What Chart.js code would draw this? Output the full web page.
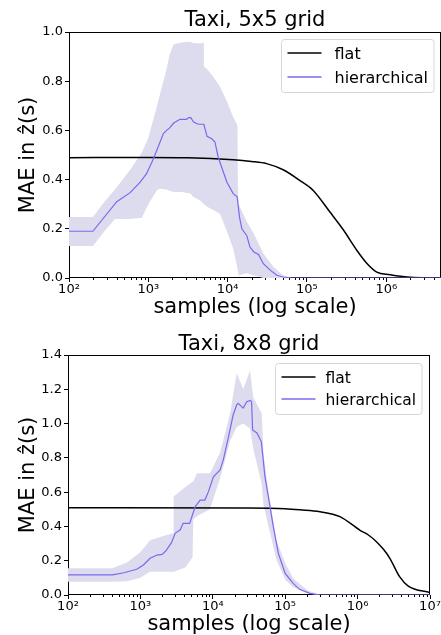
<!DOCTYPE html>
<html>
<head>
<meta charset="utf-8">
<script src="https://cdn.jsdelivr.net/npm/chart.js@4.4.0/dist/chart.umd.min.js"></script>
<style>
  html, body { margin: 0; padding: 0; background: #fff; overflow: hidden; }
  .panel { position: absolute; left: 0; }
</style>
</head>
<body>
<div class="panel" style="top:0"><canvas id="grid5" width="441" height="320"></canvas></div>
<div class="panel" style="top:320px"><canvas id="grid8" width="441" height="315"></canvas></div>
<script>
// ---- Taxi, 5x5 grid ----
const flat5Samples = [100, 1000, 3160, 11750, 20000, 31000, 50100, 81000, 120000, 195000, 290000, 427000, 575000, 760000, 1120000, 1510000, 2240000, 3500000, 4900000];
const flat5Mae = [0.489, 0.49, 0.489, 0.481, 0.474, 0.465, 0.44, 0.397, 0.356, 0.268, 0.194, 0.112, 0.058, 0.024, 0.0135, 0.007, 0.002, 0, 0];

const hier5Samples = [100, 200, 400, 590, 790, 950, 1160, 1550, 1700, 1860, 2090, 2510, 3020, 3240, 3430, 3720, 4270, 5010, 5500, 6310, 6920, 7590, 9770, 11750, 13200, 14100, 15100, 17400, 19100, 21400, 24500, 28200, 34700, 41700, 50100, 61700, 4900000];
const hier5Mae = [0.19, 0.19, 0.31, 0.347, 0.39, 0.424, 0.485, 0.587, 0.60, 0.61, 0.63, 0.645, 0.645, 0.652, 0.652, 0.634, 0.625, 0.625, 0.576, 0.566, 0.553, 0.492, 0.39, 0.343, 0.33, 0.248, 0.20, 0.173, 0.126, 0.106, 0.096, 0.058, 0.031, 0.011, 0.004, 0.001, 0];

const band5Samples = [100, 200, 280, 380, 590, 830, 1000, 1290, 1410, 1700, 1860, 2090, 2630, 3390, 3670, 4470, 5010, 5020, 5500, 6610, 8040, 9770, 11750, 13300, 13500, 13800, 17400, 21400, 28200, 38000, 50100, 63100, 4900000];
const upper5 = [0.248, 0.248, 0.31, 0.36, 0.44, 0.51, 0.57, 0.70, 0.75, 0.85, 0.91, 0.95, 0.957, 0.96, 0.955, 0.953, 0.957, 0.86, 0.85, 0.817, 0.776, 0.72, 0.654, 0.62, 0.33, 0.30, 0.23, 0.18, 0.10, 0.045, 0.011, 0, 0];
const lower5 = [0.13, 0.13, 0.19, 0.24, 0.24, 0.245, 0.30, 0.358, 0.363, 0.36, 0.355, 0.35, 0.35, 0.343, 0.33, 0.316, 0.30, 0.30, 0.29, 0.276, 0.26, 0.19, 0.12, 0.04, 0.03, 0.01, 0.02, 0.01, 0, 0, 0, 0, 0];

// ---- Taxi, 8x8 grid ----
const flat8Samples = [100, 30000, 100000, 160000, 302000, 570000, 1070000, 1410000, 1820000, 2290000, 2790000, 3800000, 5010000, 10000000];
const flat8Mae = [0.509, 0.507, 0.503, 0.497, 0.486, 0.457, 0.379, 0.35, 0.311, 0.265, 0.214, 0.107, 0.052, 0.014];

const hier8Samples = [100, 410, 590, 890, 1100, 1360, 1700, 2000, 2290, 2690, 3020, 3550, 3890, 4790, 5700, 6680, 7760, 8710, 10200, 12600, 14000, 16400, 19100, 21400, 22400, 26300, 29500, 33100, 34300, 35500, 40700, 46800, 52500, 60300, 68400, 80400, 100000, 129000, 158000, 219000, 302000, 10000000];
const hier8Mae = [0.117, 0.117, 0.13, 0.15, 0.175, 0.214, 0.233, 0.237, 0.262, 0.305, 0.36, 0.38, 0.418, 0.418, 0.515, 0.554, 0.554, 0.603, 0.69, 0.73, 0.79, 0.92, 1.05, 1.11, 1.118, 1.09, 1.128, 1.135, 1.128, 0.963, 0.945, 0.895, 0.69, 0.54, 0.40, 0.243, 0.126, 0.068, 0.033, 0.0097, 0, 0];

const band8Samples = [100, 410, 650, 1000, 1360, 2290, 2850, 2880, 4170, 5250, 5370, 6030, 9120, 12600, 17400, 21400, 26300, 32700, 36300, 47300, 50100, 58900, 75900, 100000, 129000, 200000, 302000, 10000000];
const upper8 = [0.156, 0.156, 0.19, 0.25, 0.32, 0.35, 0.36, 0.574, 0.63, 0.66, 0.66, 0.71, 0.71, 0.83, 1.06, 1.295, 1.20, 1.31, 1.15, 1.06, 0.83, 0.60, 0.32, 0.185, 0.097, 0.029, 0, 0];
const lower8 = [0.078, 0.078, 0.08, 0.10, 0.136, 0.136, 0.136, 0.136, 0.16, 0.22, 0.44, 0.46, 0.50, 0.68, 0.90, 0.98, 1.0, 0.97, 0.85, 0.65, 0.525, 0.40, 0.204, 0.09, 0.045, 0.012, 0, 0];

const seriesLabels = ['flat', 'hierarchical'];
const xTitle = 'samples (log scale)';
const yTitle = 'MAE in ẑ(s)';
const sup = {2: '²', 3: '³', 4: '⁴', 5: '⁵', 6: '⁶', 7: '⁷'};

Chart.defaults.font.family = '"DejaVu Sans", sans-serif';
Chart.defaults.color = '#000';

const points = (xs, ys) => xs.map((x, i) => ({x: x, y: ys[i]}));

// axes box + small minor ticks, drawn under the lines
const frame = {
    id: 'frame',
    beforeDatasetsDraw (chart) {
        const {ctx, chartArea: a, scales: {x}} = chart;
        ctx.save();
        ctx.strokeStyle = '#000';
        ctx.lineWidth = 1;
        const l = Math.round(a.left) + 0.5, t = Math.round(a.top) + 0.5;
        const r = Math.round(a.right) - 0.5, b = Math.round(a.bottom) - 0.5;
        ctx.strokeRect(l, t, r - l, b - t);
        ctx.beginPath();
        x.ticks.forEach(tk => {
            if (tk.major) return;
            const px = Math.round(x.getPixelForValue(tk.value)) + 0.5;
            ctx.moveTo(px, b);
            ctx.lineTo(px, b + 2.5);
        });
        ctx.stroke();
        ctx.restore();
    }
};

// legend box inside the axes, top right
const legendBox = {
    id: 'legendBox',
    afterDraw (chart, args, opts) {
        const {ctx, chartArea: a} = chart;
        const items = chart.data.datasets.filter(d => d.label);
        ctx.save();
        ctx.font = opts.fontSize + 'px "DejaVu Sans"';
        const textW = Math.max(...items.map(d => ctx.measureText(d.label).width));
        const w = opts.textGap + textW + 6;
        const x0 = Math.round(a.right - opts.right - w) + 0.5;
        const y0 = Math.round(a.top + opts.top) + 0.5;
        ctx.beginPath();
        ctx.roundRect(x0, y0, w, opts.height, 3);
        ctx.fillStyle = 'rgba(255,255,255,0.8)';
        ctx.fill();
        ctx.strokeStyle = '#d6d6d6';
        ctx.lineWidth = 1;
        ctx.stroke();
        items.forEach((d, i) => {
            const y = y0 + opts.firstRow + i * opts.rowGap;
            ctx.strokeStyle = d.borderColor;
            ctx.lineWidth = 1.5;
            ctx.beginPath();
            ctx.moveTo(x0 + 6, y);
            ctx.lineTo(x0 + 40, y);
            ctx.stroke();
            ctx.fillStyle = '#000';
            ctx.textBaseline = 'middle';
            ctx.fillText(d.label, x0 + opts.textGap, y + 1.5);
        });
        ctx.restore();
    }
};

function decadeTicks (scale) {
    const list = [];
    for (let e = 2; e <= 7; e++) {
        for (let m = 1; m <= 9; m++) {
            const v = m * Math.pow(10, e);
            if (v >= scale.min && v <= scale.max * 1.0001) list.push({value: v, major: m === 1});
        }
    }
    scale.ticks = list;
}

function makeChart (id, s) {
    return new Chart(document.getElementById(id), {
        type: 'line',
        data: {
            datasets: [{
                label: seriesLabels[0],
                data: points(s.flatX, s.flatY),
                borderColor: '#000000',
                borderWidth: 1.5,
                cubicInterpolationMode: 'monotone',
                pointRadius: 0,
                order: 1
            }, {
                label: seriesLabels[1],
                data: points(s.hierX, s.hierY),
                borderColor: '#7b68ee',
                borderWidth: 1.2,
                pointRadius: 0,
                order: 0
            }, {
                data: points(s.bandX, s.upper),
                borderWidth: 0,
                borderColor: 'rgba(0,0,0,0)',
                backgroundColor: '#dcdcee',
                fill: '+1',
                pointRadius: 0,
                order: 2
            }, {
                data: points(s.bandX, s.lower),
                borderWidth: 0,
                borderColor: 'rgba(0,0,0,0)',
                fill: false,
                pointRadius: 0,
                order: 2
            }]
        },
        options: {
            responsive: false,
            animation: false,
            events: [],
            layout: {autoPadding: false, padding: {left: 0, right: s.padRight, top: 0, bottom: 0}},
            plugins: {
                legend: {display: false},
                tooltip: {enabled: false},
                title: {
                    display: true,
                    text: s.title,
                    fullSize: false,
                    color: '#000',
                    font: {size: 21, weight: 'normal', lineHeight: 1},
                    padding: {top: s.titleTop, bottom: s.titleBottom}
                },
                legendBox: s.legend
            },
            scales: {
                x: {
                    type: 'logarithmic',
                    min: 100,
                    max: s.xMax,
                    afterBuildTicks: decadeTicks,
                    afterFit: sc => { sc.height = s.xHeight; },
                    border: {display: false},
                    grid: {
                        drawOnChartArea: false,
                        tickLength: 4,
                        tickColor: c => (c.tick && c.tick.major) ? '#000' : 'rgba(0,0,0,0)'
                    },
                    ticks: {
                        autoSkip: false,
                        maxRotation: 0,
                        padding: 0,
                        font: {size: 13},
                        callback: v => {
                            const e = Math.round(Math.log10(v));
                            return Math.abs(v - Math.pow(10, e)) < 1e-6 * v ? '10' + sup[e] : '';
                        }
                    },
                    title: {
                        display: true,
                        text: xTitle,
                        font: {size: 21, lineHeight: 1},
                        padding: {top: 0, bottom: s.xTitleBottom}
                    }
                },
                y: {
                    min: 0,
                    max: s.yMax,
                    afterFit: sc => { sc.width = s.yWidth; },
                    border: {display: false},
                    grid: {drawOnChartArea: false, tickLength: 4, tickColor: '#000'},
                    ticks: {
                        stepSize: 0.2,
                        padding: 2,
                        font: {size: 13},
                        callback: v => v.toFixed(1)
                    },
                    title: {
                        display: true,
                        text: yTitle,
                        font: {size: 21, lineHeight: 1},
                        padding: {top: 18, bottom: 0}
                    }
                }
            }
        },
        plugins: [frame, legendBox]
    });
}

makeChart('grid5', {
    title: 'Taxi, 5x5 grid',
    flatX: flat5Samples, flatY: flat5Mae,
    hierX: hier5Samples, hierY: hier5Mae,
    bandX: band5Samples, upper: upper5, lower: lower5,
    xMax: 4900000, yMax: 1.0,
    padRight: 0, yWidth: 69, xHeight: 42,
    titleTop: 10, titleBottom: 1, xTitleBottom: 1.5,
    legend: {fontSize: 16, top: 7, right: 8, height: 53, firstRow: 13.5, rowGap: 24, textGap: 53}
});

makeChart('grid8', {
    title: 'Taxi, 8x8 grid',
    flatX: flat8Samples, flatY: flat8Mae,
    hierX: hier8Samples, hierY: hier8Mae,
    bandX: band8Samples, upper: upper8, lower: lower8,
    xMax: 10000000, yMax: 1.4,
    padRight: 11, yWidth: 68, xHeight: 40,
    titleTop: 14, titleBottom: 0, xTitleBottom: 0,
    legend: {fontSize: 15.5, top: 8, right: 8, height: 51, firstRow: 13.5, rowGap: 22, textGap: 50}
});
</script>
</body>
</html>
